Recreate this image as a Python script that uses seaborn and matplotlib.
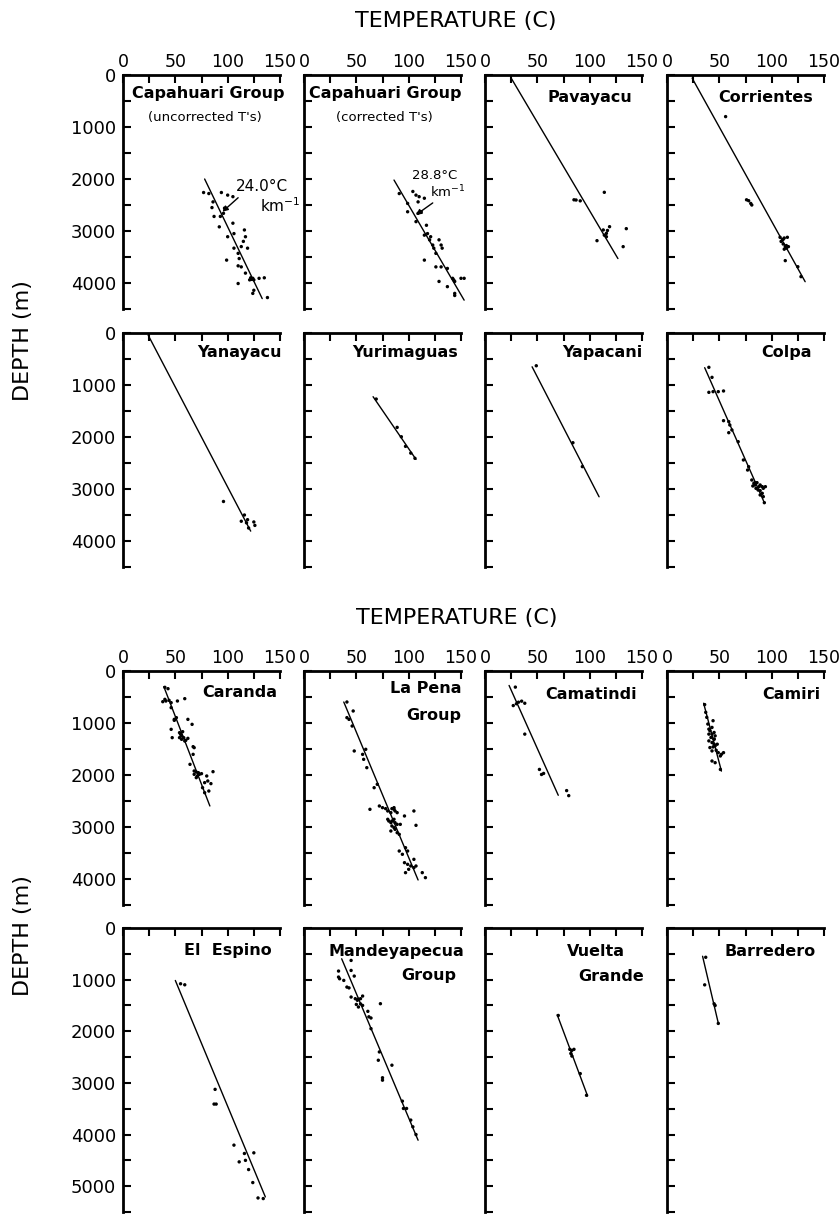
import numpy as np
import pandas as pd
import matplotlib
matplotlib.use("Agg")
import matplotlib.pyplot as plt
import seaborn as sns

# ---------------------------------------------------------
# DATA: (temperature C, depth m)
# ---------------------------------------------------------
capu_unc_pts = [(77, 2260), (82, 2280), (86, 2440), (94, 2260), (100, 2310), (105, 2340),
                (85, 2550), (87, 2720), (93, 2720), (97, 2560), (96, 2660), (92, 2920),
                (100, 3110), (105, 2850), (106, 3050), (116, 2980), (117, 3110), (115, 3200),
                (113, 3300), (119, 3330), (106, 3330), (110, 3430), (111, 3530), (99, 3560),
                (110, 3670), (113, 3690), (117, 3810), (121, 3940), (124, 3910), (125, 3940),
                (122, 3900), (123, 3930), (130, 3910), (135, 3900), (110, 4010), (124, 4200),
                (125, 4140), (138, 4280)]
capu_unc_fit = [(78, 2000), (133, 4300)]

capu_cor_pts = [(91, 2280), (104, 2240), (107, 2310), (110, 2340), (115, 2370), (109, 2440),
                (99, 2470), (99, 2630), (109, 2660), (112, 2630), (107, 2820), (117, 2890),
                (115, 3080), (118, 3050), (121, 3110), (120, 3170), (129, 3170), (131, 3270),
                (132, 3330), (123, 3270), (124, 3330), (126, 3430), (115, 3560), (126, 3690),
                (131, 3690), (137, 3720), (142, 3910), (143, 3940), (144, 3970), (150, 3910),
                (153, 3910), (129, 3970), (137, 4070), (144, 4200), (144, 4240)]
capu_cor_fit = [(86, 2020), (153, 4330)]

pavayacu_pts = [(85, 2400), (87, 2404), (91, 2420), (114, 2256), (113, 2980), (116, 3045),
                (117, 2990), (119, 2917), (114, 3080), (116, 3110), (107, 3186), (135, 2955),
                (132, 3301)]
pavayacu_fit = [(25, 60), (127, 3530)]

corrientes_pts = [(56, 800), (76, 2400), (78, 2417), (80, 2470), (81, 2500), (108, 3121),
                  (111, 3160), (109, 3200), (112, 3135), (115, 3121), (113, 3301), (114, 3330),
                  (116, 3301), (112, 3350), (111, 3250), (114, 3280), (113, 3570), (125, 3687),
                  (128, 3878)]
corrientes_fit = [(24, 60), (132, 3975)]

yanayacu_pts = [(96, 3240), (116, 3500), (119, 3590), (125, 3634), (126, 3700), (118, 3650),
                (120, 3750), (113, 3620)]
yanayacu_fit = [(24, 40), (122, 3810)]

yurimaguas_pts = [(69, 1270), (89, 1815), (93, 1995), (97, 2180), (102, 2310), (106, 2410)]
yurimaguas_fit = [(66, 1225), (107, 2430)]

yapacani_pts = [(49, 630), (84, 2110), (93, 2570)]
yapacani_fit = [(45, 650), (109, 3150)]

colpa_pts = [(40, 660), (43, 853), (40, 1141), (44, 1128), (49, 1128), (54, 1115), (54, 1686),
             (59, 1705), (60, 1769), (62, 1865), (59, 1917), (68, 2090), (73, 2442), (78, 2571),
             (77, 2635), (81, 2827), (83, 2891), (84, 2923), (86, 2878), (88, 2955), (89, 2923),
             (91, 2955), (92, 2987), (94, 2955), (82, 2942), (85, 2987), (87, 3019), (89, 3032),
             (91, 3083), (92, 3147), (93, 3263), (89, 3115), (84, 2878)]
colpa_fit = [(36, 667), (93, 3263)]

caranda_pts = [(40, 314), (43, 340), (40, 545), (41, 577), (44, 564), (38, 590), (46, 609),
               (52, 577), (59, 532), (46, 705), (49, 930), (51, 897), (49, 949), (62, 930),
               (46, 1122), (47, 1282), (54, 1186), (55, 1218), (56, 1250), (57, 1167),
               (58, 1282), (54, 1282), (56, 1314), (59, 1346), (60, 1333), (62, 1295),
               (66, 1026), (68, 1474), (67, 1455), (67, 1603), (64, 1795), (68, 1923),
               (70, 1942), (72, 1955), (73, 1987), (68, 1987), (71, 2019), (75, 1974),
               (70, 2051), (86, 1936), (80, 2019), (81, 2115), (78, 2147), (84, 2166),
               (76, 2244), (78, 2340), (82, 2308)]
caranda_fit = [(39, 300), (83, 2596)]

lapena_pts = [(41, 596), (47, 769), (41, 897), (43, 930), (46, 1058), (48, 1538), (56, 1603),
              (59, 1506), (57, 1699), (60, 1859), (67, 2244), (70, 2179), (63, 2660), (72, 2596),
              (75, 2628), (78, 2647), (80, 2692), (84, 2647), (86, 2660), (87, 2692), (83, 2724),
              (89, 2724), (86, 2628), (80, 2852), (81, 2885), (83, 2917), (84, 2885), (86, 2852),
              (87, 2917), (89, 2949), (84, 2981), (86, 3013), (83, 3077), (87, 3045), (89, 3109),
              (92, 2949), (96, 2788), (105, 2692), (107, 2968), (91, 3141), (91, 3462), (94, 3525),
              (97, 3398), (99, 3462), (96, 3686), (99, 3718), (102, 3750), (105, 3622), (100, 3814),
              (97, 3878), (105, 3782), (107, 3750), (113, 3878), (116, 3974)]
lapena_fit = [(38, 596), (109, 4019)]

camatindi_pts = [(29, 310), (27, 665), (30, 630), (32, 600), (35, 580), (38, 620), (38, 1214),
                 (52, 1893), (54, 1990), (56, 1970), (78, 2300), (80, 2397)]
camatindi_fit = [(23, 278), (70, 2390)]

camiri_pts = [(36, 646), (37, 795), (38, 891), (39, 1020), (40, 1118), (41, 1150), (43, 1214),
              (45, 1182), (42, 1279), (46, 1247), (45, 1311), (40, 1344), (43, 1376), (45, 1408),
              (46, 1440), (48, 1408), (41, 1473), (43, 1537), (47, 1525), (49, 1570), (52, 1602),
              (54, 1570), (51, 1634), (43, 1731), (46, 1763), (51, 1893), (44, 956), (43, 1085),
              (40, 1214), (45, 1311), (44, 1460)]
camiri_fit = [(35, 620), (52, 1925)]

elespino_pts = [(55, 1080), (59, 1100), (88, 3125), (89, 3410), (87, 3410), (106, 4205),
                (111, 4529), (116, 4367), (117, 4500), (120, 4678), (125, 4354), (124, 4930),
                (129, 5228), (134, 5240)]
elespino_fit = [(50, 1016), (136, 5208)]

mandeya_pts = [(45, 628), (45, 822), (33, 834), (33, 950), (34, 983), (38, 1015), (48, 931),
               (41, 1144), (43, 1160), (45, 1337), (49, 1369), (51, 1400), (52, 1380), (54, 1369),
               (56, 1318), (50, 1480), (52, 1530), (56, 1500), (54, 1470), (73, 1466), (61, 1614),
               (62, 1720), (64, 1743), (64, 1949), (72, 2400), (71, 2561), (84, 2657), (75, 2900),
               (75, 2947), (94, 3353), (95, 3495), (98, 3495), (102, 3720), (104, 3850), (107, 4000)]
mandeya_fit = [(36, 596), (109, 4110)]

vuelta_pts = [(70, 1694), (81, 2350), (83, 2370), (85, 2350), (82, 2430), (83, 2480),
              (91, 2820), (97, 3240)]
vuelta_fit = [(69, 1681), (98, 3252)]

barredero_pts = [(37, 567), (36, 1101), (45, 1468), (46, 1500), (49, 1848)]
barredero_fit = [(34, 547), (49, 1842)]

panels = [
    (capu_unc_pts, capu_unc_fit), (capu_cor_pts, capu_cor_fit), (pavayacu_pts, pavayacu_fit), (corrientes_pts, corrientes_fit),
    (yanayacu_pts, yanayacu_fit), (yurimaguas_pts, yurimaguas_fit), (yapacani_pts, yapacani_fit), (colpa_pts, colpa_fit),
    (caranda_pts, caranda_fit), (lapena_pts, lapena_fit), (camatindi_pts, camatindi_fit), (camiri_pts, camiri_fit),
    (elespino_pts, elespino_fit), (mandeya_pts, mandeya_fit), (vuelta_pts, vuelta_fit), (barredero_pts, barredero_fit),
]

# panel names: (text, x, y, ha, fontsize) in axes fraction
panel_labels = [
    [("Capahuari Group", 0.54, 0.92, "center", 11.5), ("(uncorrected T's)", 0.52, 0.82, "center", 9.5)],
    [("Capahuari Group", 0.52, 0.92, "center", 11.5), ("(corrected T's)", 0.51, 0.82, "center", 9.5)],
    [("Pavayacu", 0.94, 0.905, "right", 11.5)],
    [("Corrientes", 0.93, 0.905, "right", 11.5)],
    [("Yanayacu", 1.01, 0.915, "right", 11.5)],
    [("Yurimaguas", 0.98, 0.915, "right", 11.5)],
    [("Yapacani", 1.0, 0.915, "right", 11.5)],
    [("Colpa", 0.92, 0.915, "right", 11.5)],
    [("Caranda", 0.98, 0.91, "right", 11.5)],
    [("La Pena", 1.0, 0.925, "right", 11.5), ("Group", 1.0, 0.81, "right", 11.5)],
    [("Camatindi", 0.97, 0.90, "right", 11.5)],
    [("Camiri", 0.98, 0.90, "right", 11.5)],
    [("El  Espino", 0.95, 0.92, "right", 11.5)],
    [("Mandeyapecua", 1.02, 0.916, "right", 11.5), ("Group", 0.97, 0.834, "right", 11.5)],
    [("Vuelta", 0.89, 0.916, "right", 11.5), ("Grande", 1.01, 0.83, "right", 11.5)],
    [("Barredero", 0.95, 0.916, "right", 11.5)],
]

# ---------------------------------------------------------
# LAYOUT (pixels)
# ---------------------------------------------------------
W, H = 839, 1215
col_left = [123, 304, 485, 667]
col_w = 157
row_top = [75, 333, 671, 928]
row_h = [234, 234, 234, 284]
row_depth = [4500, 4500, 4500, 5500]

sns.set_style("ticks")
plt.rcParams['font.family'] = ['DejaVu Sans']
plt.rcParams.update({"text.color": "black", "axes.edgecolor": "black",
                     "xtick.color": "black", "ytick.color": "black",
                     "axes.labelcolor": "black"})

fig = plt.figure(figsize=(W / 100, H / 100), dpi=100)

axes = []
for i, (pts, fit) in enumerate(panels):
    r, c = divmod(i, 4)
    ax = fig.add_axes([col_left[c] / W, 1 - (row_top[r] + row_h[r]) / H, col_w / W, row_h[r] / H])
    axes.append(ax)
    dpts = pd.DataFrame(pts, columns=["temp", "depth"])
    dfit = pd.DataFrame(fit, columns=["temp", "depth"])
    sns.lineplot(data=dfit, x="temp", y="depth", ax=ax, color="black", lw=1.0,
                 sort=False, estimator=None, clip_on=False)
    sns.scatterplot(data=dpts, x="temp", y="depth", ax=ax, color="black", s=6,
                    edgecolor="none", clip_on=False, zorder=3)

    depth = row_depth[r]
    ax.set_xlim(0, 150)
    ax.set_ylim(depth, 0)
    ax.set_xlabel("")
    ax.set_ylabel("")

    xt = np.arange(0, 151, 25)
    ax.set_xticks(xt)
    ax.set_xticklabels([str(v) if v % 50 == 0 else "" for v in xt])
    yt = np.arange(0, depth + 1, 500)
    ax.set_yticks(yt)
    ax.set_yticklabels([str(v) if v % 1000 == 0 else "" for v in yt])

    ax.xaxis.tick_top()
    ax.tick_params(axis="x", direction="in", length=6, width=1.5, top=True, bottom=False,
                   labeltop=(r in (0, 2)), labelbottom=False, labelsize=12.5, pad=3)
    ax.tick_params(axis="y", direction="in", length=6, width=1.5, left=True, right=False,
                   labelleft=(c == 0), labelsize=13, pad=5)
    for s in ["right", "bottom"]:
        ax.spines[s].set_visible(False)
    for s in ["top", "left"]:
        ax.spines[s].set_linewidth(2)

    for (txt, tx, ty, ha, fs) in panel_labels[i]:
        ax.text(tx, ty, txt, transform=ax.transAxes, ha=ha, va="center", fontsize=fs,
                fontweight="bold" if fs > 10 else "normal", clip_on=False)

# gradient annotations
axes[0].annotate("", xy=(95, 2630), xytext=(110, 2360),
                 arrowprops=dict(arrowstyle="-|>", color="black", lw=1, mutation_scale=8,
                                 shrinkA=0, shrinkB=0))
axes[0].text(133, 2150, "24.0°C", ha="center", va="center", fontsize=11, clip_on=False)
axes[0].text(150, 2520, "km$^{-1}$", ha="center", va="center", fontsize=11, clip_on=False)
axes[1].annotate("", xy=(107, 2690), xytext=(123, 2460),
                 arrowprops=dict(arrowstyle="-|>", color="black", lw=1, mutation_scale=8,
                                 shrinkA=0, shrinkB=0))
axes[1].text(125, 1940, "28.8°C", ha="center", va="center", fontsize=9.5, clip_on=False)
axes[1].text(137, 2250, "km$^{-1}$", ha="center", va="center", fontsize=9.5, clip_on=False)

fig.text(456 / W, 1 - 21 / H, "TEMPERATURE (C)", ha="center", va="center", fontsize=16)
fig.text(457 / W, 1 - 618 / H, "TEMPERATURE (C)", ha="center", va="center", fontsize=16)
fig.text(23 / W, 1 - 341 / H, "DEPTH (m)", ha="center", va="center", fontsize=16, rotation=90)
fig.text(23 / W, 1 - 936 / H, "DEPTH (m)", ha="center", va="center", fontsize=16, rotation=90)

fig.savefig("out.png", dpi=100)
print("saved out.png")
